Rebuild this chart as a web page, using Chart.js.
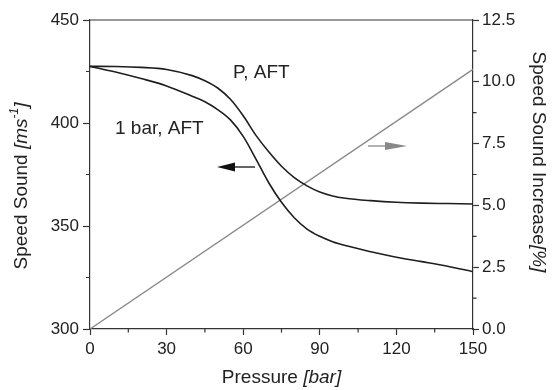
<!DOCTYPE html>
<html>
<head>
<meta charset="UTF-8">
<title>Speed Sound</title>
<script src="https://cdn.jsdelivr.net/npm/chart.js@4"></script>
<style>
  body { margin: 0; background: #fff; }
  #wrap { width: 552px; height: 390px; }
</style>
</head>
<body>
<div id="wrap"><canvas id="chart" width="552" height="390"></canvas></div>
<script>
// pressure [bar]
const pressure = [0, 10, 20, 30, 40, 45, 50, 55, 60, 65, 70, 75, 80, 85, 90, 95, 100, 110, 120, 130, 140, 150];
// speed of sound [m/s], P AFT
const speedP = [427.5, 427.4, 427.0, 426.0, 423.0, 420.5, 417.0, 411.5, 403.5, 394.0, 386.0, 379.0, 373.5, 369.5, 366.5, 364.6, 363.5, 362.3, 361.5, 361.1, 360.9, 360.7];
// speed of sound [m/s], 1 bar AFT
const speed1bar = [427.5, 424.8, 421.6, 418.0, 413.0, 410.3, 406.5, 401.5, 393.5, 382.5, 371.0, 361.5, 354.0, 348.5, 345.0, 342.4, 340.5, 337.5, 334.8, 332.7, 330.5, 327.8];
// speed sound increase [%]
const incPressure = [0, 150];
const increase = [0, 10.5];

const xTicks = [0, 30, 60, 90, 120, 150];
const leftTicks = [300, 350, 400, 450];
const rightTicks = [0, 2.5, 5, 7.5, 10, 12.5];

const FONT = "'Liberation Sans', Arial, sans-serif";
const AXIS = '#333';

function pts(xs, ys) {
  return xs.map((x, i) => ({ x: x, y: ys[i] }));
}

// frame, minor ticks, axis titles, labels and arrows
const extras = {
  id: 'extras',
  afterDraw(chart) {
    const ctx = chart.ctx;
    const a = chart.chartArea;
    const sx = chart.scales.x, sl = chart.scales.y, sr = chart.scales.y2;
    ctx.save();
    ctx.strokeStyle = AXIS;
    ctx.lineWidth = 1.2;
    // top frame line
    ctx.beginPath();
    ctx.moveTo(a.left, a.top);
    ctx.lineTo(a.right, a.top);
    ctx.stroke();
    // minor ticks
    ctx.beginPath();
    for (let i = 0; i < xTicks.length - 1; i++) {
      const px = sx.getPixelForValue((xTicks[i] + xTicks[i + 1]) / 2);
      ctx.moveTo(px, a.bottom);
      ctx.lineTo(px, a.bottom + 3.5);
    }
    for (let i = 0; i < leftTicks.length - 1; i++) {
      const py = sl.getPixelForValue((leftTicks[i] + leftTicks[i + 1]) / 2);
      ctx.moveTo(a.left, py);
      ctx.lineTo(a.left - 4, py);
    }
    for (let i = 0; i < rightTicks.length - 1; i++) {
      const py = sr.getPixelForValue((rightTicks[i] + rightTicks[i + 1]) / 2);
      ctx.moveTo(a.right, py);
      ctx.lineTo(a.right + 3.5, py);
    }
    ctx.stroke();

    // axis titles with italic parts
    ctx.fillStyle = '#222';
    ctx.textBaseline = 'middle';
    function runs(parts) {
      let w = 0;
      parts.forEach(p => { ctx.font = p.f; p.w = ctx.measureText(p.t).width; w += p.w; });
      return w;
    }
    function drawRuns(parts, cx, cy, rot) {
      ctx.save();
      ctx.translate(cx, cy);
      ctx.rotate(rot);
      const w = runs(parts);
      let x = -w / 2;
      ctx.textAlign = 'left';
      parts.forEach(p => {
        ctx.font = p.f;
        ctx.fillText(p.t, x, p.dy || 0);
        x += p.w;
      });
      ctx.restore();
    }
    const reg = '19px ' + FONT, ita = 'italic 19px ' + FONT, sup = 'italic 12px ' + FONT;
    drawRuns([{ t: 'Pressure ', f: reg }, { t: '[bar]', f: ita }], (a.left + a.right) / 2, 378, 0);
    drawRuns([{ t: 'Speed Sound ', f: reg }, { t: '[ms', f: ita }, { t: '-1', f: sup, dy: -7 }, { t: ']', f: ita }], 22, 186, -Math.PI / 2);
    drawRuns([{ t: 'Speed Sound Increase', f: reg }, { t: '[%]', f: ita }], 538, 162, Math.PI / 2);

    // curve labels
    ctx.font = '19px ' + FONT;
    ctx.textAlign = 'left';
    ctx.fillText('P, AFT', sx.getPixelForValue(56), sl.getPixelForValue(424.2));
    ctx.fillText('1 bar, AFT', sx.getPixelForValue(9.8), sl.getPixelForValue(397.4));

    // arrows
    function arrow(x1, x2, y, color, headLen, headHalf) {
      ctx.strokeStyle = color;
      ctx.fillStyle = color;
      ctx.lineWidth = 1.3;
      const dir = Math.sign(x2 - x1);
      ctx.beginPath();
      ctx.moveTo(x1, y);
      ctx.lineTo(x2 - dir * headLen, y);
      ctx.stroke();
      ctx.beginPath();
      ctx.moveTo(x2, y);
      ctx.lineTo(x2 - dir * headLen, y - headHalf);
      ctx.lineTo(x2 - dir * headLen, y + headHalf);
      ctx.closePath();
      ctx.fill();
    }
    arrow(255, 217, 167, '#111', 18, 4.5);
    arrow(368, 407, 146, '#888', 22, 4);
    ctx.restore();
  }
};

new Chart(document.getElementById('chart'), {
  type: 'line',
  data: {
    datasets: [
      {
        label: 'P, AFT',
        data: pts(pressure, speedP),
        yAxisID: 'y',
        borderColor: '#1e1e1e',
        borderWidth: 1.6,
        pointRadius: 0,
        cubicInterpolationMode: 'monotone',
        fill: false
      },
      {
        label: '1 bar, AFT',
        data: pts(pressure, speed1bar),
        yAxisID: 'y',
        borderColor: '#1e1e1e',
        borderWidth: 1.6,
        pointRadius: 0,
        cubicInterpolationMode: 'monotone',
        fill: false
      },
      {
        label: 'Increase',
        data: pts(incPressure, increase),
        yAxisID: 'y2',
        borderColor: '#8a8a8a',
        borderWidth: 1.4,
        pointRadius: 0,
        fill: false
      }
    ]
  },
  options: {
    responsive: false,
    animation: false,
    layout: { padding: { top: 20, left: 0, right: 0, bottom: 0 } },
    plugins: { legend: { display: false }, tooltip: { enabled: false } },
    scales: {
      x: {
        type: 'linear',
        min: 0, max: 150,
        afterBuildTicks: s => { s.ticks = xTicks.map(v => ({ value: v })); },
        afterFit: s => { s.height = 61; },
        grid: { drawOnChartArea: false, drawTicks: true, tickLength: 6, tickColor: AXIS, tickWidth: 1.2 },
        border: { display: true, color: AXIS, width: 1.2 },
        ticks: { color: '#222', font: { family: FONT, size: 17 }, padding: 4, maxRotation: 0 }
      },
      y: {
        position: 'left',
        min: 300, max: 450,
        afterBuildTicks: s => { s.ticks = leftTicks.map(v => ({ value: v })); },
        afterFit: s => { s.width = 90; },
        grid: { drawOnChartArea: false, drawTicks: true, tickLength: 7, tickColor: AXIS, tickWidth: 1.2 },
        border: { display: true, color: AXIS, width: 1.2 },
        ticks: { color: '#222', font: { family: FONT, size: 17 }, padding: 4 }
      },
      y2: {
        position: 'right',
        min: 0, max: 12.5,
        afterBuildTicks: s => { s.ticks = rightTicks.map(v => ({ value: v })); },
        afterFit: s => { s.width = 79; },
        grid: { drawOnChartArea: false, drawTicks: true, tickLength: 6, tickColor: AXIS, tickWidth: 1.2 },
        border: { display: true, color: AXIS, width: 1.2 },
        ticks: { color: '#222', font: { family: FONT, size: 17 }, padding: 3, callback: v => v.toFixed(1) }
      }
    }
  },
  plugins: [extras]
});
</script>
</body>
</html>
